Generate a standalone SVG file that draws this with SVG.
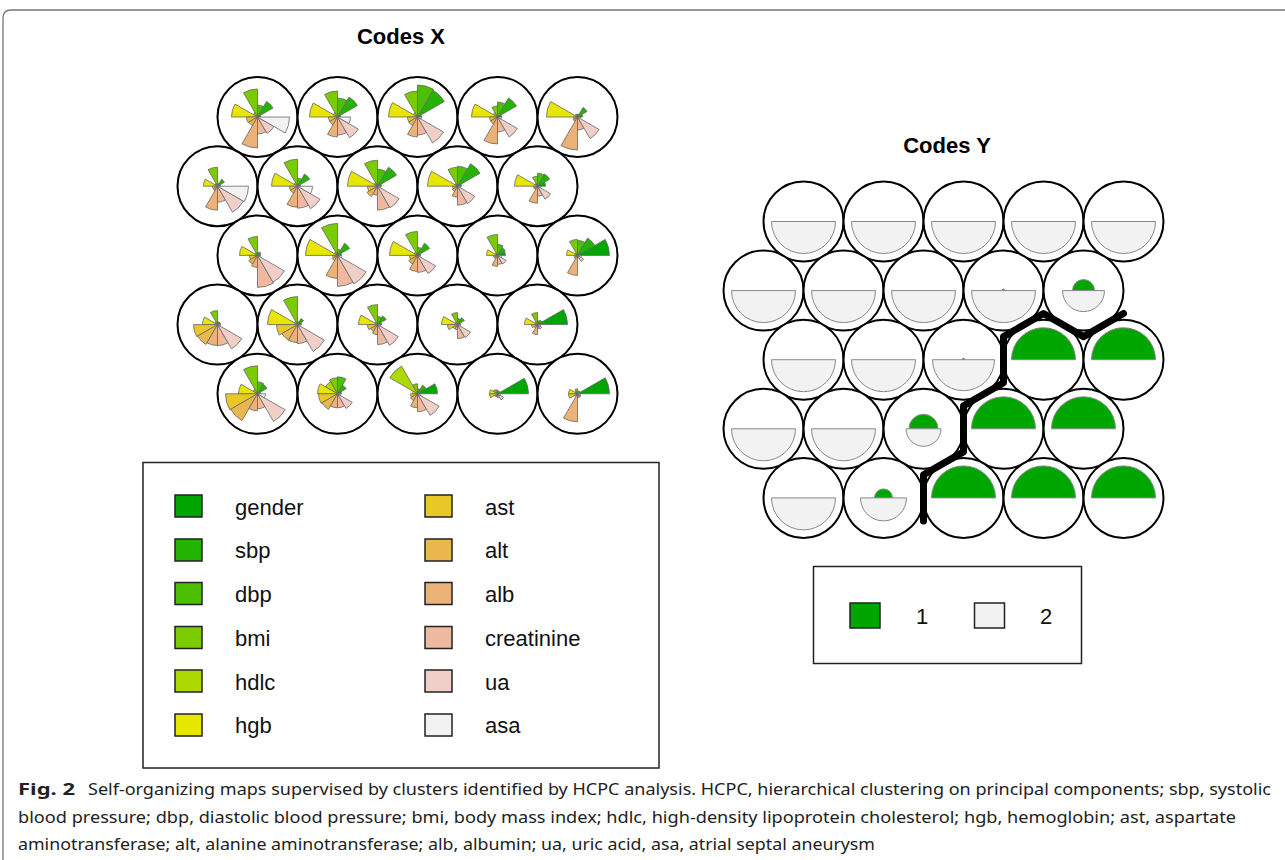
<svg xmlns="http://www.w3.org/2000/svg" xmlns:xlink="http://www.w3.org/1999/xlink" width="1285" height="860" viewBox="0 0 1285 860">
<style>
.c{fill:#fff;stroke:#000;stroke-width:2}
.w{stroke:#666;stroke-width:0.8;vector-effect:non-scaling-stroke}
.h{stroke:#888;stroke-width:1;vector-effect:non-scaling-stroke}
.t{font-family:"Liberation Sans",Arial,sans-serif;font-weight:bold;font-size:22px;fill:#000;text-anchor:middle}
.l{font-family:"Liberation Sans",Arial,sans-serif;font-size:22px;fill:#111}
.sq{stroke:#222;stroke-width:1.5}
.box{fill:#fff;stroke:#222;stroke-width:1.5}
.cap{font-family:"Noto Sans","Open Sans",sans-serif;font-size:16px;fill:#222}
</style>
<defs>
<path id="w0" class="w" d="M0,0L10,0A10,10 0 0 0 8.66,-5Z" fill="#00A600"/>
<path id="w1" class="w" d="M0,0L8.66,-5A10,10 0 0 0 5,-8.66Z" fill="#24B300"/>
<path id="w2" class="w" d="M0,0L5,-8.66A10,10 0 0 0 0,-10Z" fill="#4CBF00"/>
<path id="w3" class="w" d="M0,0L0,-10A10,10 0 0 0 -5,-8.66Z" fill="#7ACC00"/>
<path id="w4" class="w" d="M0,0L-5,-8.66A10,10 0 0 0 -8.66,-5Z" fill="#ADD900"/>
<path id="w5" class="w" d="M0,0L-8.66,-5A10,10 0 0 0 -10,0Z" fill="#E6E600"/>
<path id="w6" class="w" d="M0,0L-10,0A10,10 0 0 0 -8.66,5Z" fill="#E8C727"/>
<path id="w7" class="w" d="M0,0L-8.66,5A10,10 0 0 0 -5,8.66Z" fill="#EAB64E"/>
<path id="w8" class="w" d="M0,0L-5,8.66A10,10 0 0 0 0,10Z" fill="#ECB176"/>
<path id="w9" class="w" d="M0,0L0,10A10,10 0 0 0 5,8.66Z" fill="#EEB99F"/>
<path id="w10" class="w" d="M0,0L5,8.66A10,10 0 0 0 8.66,5Z" fill="#F0CFC8"/>
<path id="w11" class="w" d="M0,0L8.66,5A10,10 0 0 0 10,0Z" fill="#F2F2F2"/>
<path id="up" class="h" d="M-10,0A10,10 0 0 1 10,0Z" fill="#00A600"/>
<path id="lo" class="h" d="M10,0A10,10 0 0 1 -10,0Z" fill="#F2F2F2"/>
</defs>

<path d="M3,860L3,18Q3,10 11,10L1285,10" fill="none" stroke="#777" stroke-width="1.3"/>

<text class="t" x="401" y="44">Codes X</text>
<text class="t" x="947" y="153">Codes Y</text>

<!-- Codes X -->
<g id="x-1-1" transform="translate(257.5,117)"><circle class="c" r="40"/>
<use href="#w0" transform="scale(.3)"/><use href="#w1" transform="scale(1.8)"/><use href="#w2" transform="scale(1.2)"/><use href="#w3" transform="scale(2.8)"/><use href="#w4" transform="scale(.5)"/><use href="#w5" transform="scale(2.6)"/><use href="#w6" transform="scale(1.1)"/><use href="#w7" transform="scale(1)"/><use href="#w8" transform="scale(3.1)"/><use href="#w9" transform="scale(1.7)"/><use href="#w10" transform="scale(1.9)"/><use href="#w11" transform="scale(3.2)"/></g>
<g id="x-1-2" transform="translate(337.5,117)"><circle class="c" r="40"/>
<use href="#w0" transform="scale(.3)"/><use href="#w1" transform="scale(2.3)"/><use href="#w2" transform="scale(1.9)"/><use href="#w3" transform="scale(2.6)"/><use href="#w4" transform="scale(.5)"/><use href="#w5" transform="scale(2.8)"/><use href="#w6" transform="scale(.9)"/><use href="#w7" transform="scale(.9)"/><use href="#w8" transform="scale(2)"/><use href="#w9" transform="scale(1.8)"/><use href="#w10" transform="scale(2.4)"/><use href="#w11" transform="scale(1.3)"/></g>
<g id="x-1-3" transform="translate(417.5,117)"><circle class="c" r="40"/>
<use href="#w0" transform="scale(.4)"/><use href="#w1" transform="scale(3.1)"/><use href="#w2" transform="scale(3.2)"/><use href="#w3" transform="scale(2.6)"/><use href="#w4" transform="scale(.5)"/><use href="#w5" transform="scale(2.9)"/><use href="#w6" transform="scale(1)"/><use href="#w7" transform="scale(1)"/><use href="#w8" transform="scale(2)"/><use href="#w9" transform="scale(1.8)"/><use href="#w10" transform="scale(3)"/><use href="#w11" transform="scale(.4)"/></g>
<g id="x-1-4" transform="translate(497.5,117)"><circle class="c" r="40"/>
<use href="#w0" transform="scale(.4)"/><use href="#w1" transform="scale(2.2)"/><use href="#w2" transform="scale(1.5)"/><use href="#w3" transform="scale(1.1)"/><use href="#w4" transform="scale(.5)"/><use href="#w5" transform="scale(2.6)"/><use href="#w6" transform="scale(.8)"/><use href="#w7" transform="scale(.8)"/><use href="#w8" transform="scale(2.7)"/><use href="#w9" transform="scale(1.5)"/><use href="#w10" transform="scale(2.3)"/><use href="#w11" transform="scale(.4)"/></g>
<g id="x-1-5" transform="translate(577.5,117)"><circle class="c" r="40"/>
<use href="#w0" transform="scale(.5)"/><use href="#w1" transform="scale(1.1)"/><use href="#w2" transform="scale(.3)"/><use href="#w3" transform="scale(.3)"/><use href="#w4" transform="scale(.3)"/><use href="#w5" transform="scale(3.1)"/><use href="#w6" transform="scale(.4)"/><use href="#w7" transform="scale(.5)"/><use href="#w8" transform="scale(3.3)"/><use href="#w9" transform="scale(1.3)"/><use href="#w10" transform="scale(2.5)"/><use href="#w11" transform="scale(.3)"/></g>

<g id="x-2-1" transform="translate(217.5,186.2)"><circle class="c" r="40"/>
<use href="#w0" transform="scale(.3)"/><use href="#w1" transform="scale(.8)"/><use href="#w2" transform="scale(.3)"/><use href="#w3" transform="scale(1.9)"/><use href="#w4" transform="scale(.3)"/><use href="#w5" transform="scale(1.4)"/><use href="#w6" transform="scale(.5)"/><use href="#w7" transform="scale(.5)"/><use href="#w8" transform="scale(2.4)"/><use href="#w9" transform="scale(1.6)"/><use href="#w10" transform="scale(3)"/><use href="#w11" transform="scale(3.1)"/></g>
<g id="x-2-2" transform="translate(297.5,186.2)"><circle class="c" r="40"/>
<use href="#w0" transform="scale(.3)"/><use href="#w1" transform="scale(1.4)"/><use href="#w2" transform="scale(.8)"/><use href="#w3" transform="scale(2.7)"/><use href="#w4" transform="scale(.4)"/><use href="#w5" transform="scale(2.6)"/><use href="#w6" transform="scale(.8)"/><use href="#w7" transform="scale(.8)"/><use href="#w8" transform="scale(2.1)"/><use href="#w9" transform="scale(2.2)"/><use href="#w10" transform="scale(2.6)"/><use href="#w11" transform="scale(1.5)"/></g>
<g id="x-2-3" transform="translate(377.5,186.2)"><circle class="c" r="40"/>
<use href="#w0" transform="scale(.4)"/><use href="#w1" transform="scale(2.2)"/><use href="#w2" transform="scale(1.7)"/><use href="#w3" transform="scale(2.6)"/><use href="#w4" transform="scale(.4)"/><use href="#w5" transform="scale(3)"/><use href="#w6" transform="scale(1)"/><use href="#w7" transform="scale(1.2)"/><use href="#w8" transform="scale(.9)"/><use href="#w9" transform="scale(2.4)"/><use href="#w10" transform="scale(2.5)"/><use href="#w11" transform="scale(.3)"/></g>
<g id="x-2-4" transform="translate(457.5,186.2)"><circle class="c" r="40"/>
<use href="#w0" transform="scale(.4)"/><use href="#w1" transform="scale(2.6)"/><use href="#w2" transform="scale(2)"/><use href="#w3" transform="scale(1.9)"/><use href="#w4" transform="scale(.3)"/><use href="#w5" transform="scale(3)"/><use href="#w6" transform="scale(.5)"/><use href="#w7" transform="scale(.6)"/><use href="#w8" transform="scale(1.1)"/><use href="#w9" transform="scale(1.9)"/><use href="#w10" transform="scale(2)"/><use href="#w11" transform="scale(.3)"/></g>
<g id="x-2-5" transform="translate(537.5,186.2)"><circle class="c" r="40"/>
<use href="#w0" transform="scale(.8)"/><use href="#w1" transform="scale(1.4)"/><use href="#w2" transform="scale(1.3)"/><use href="#w3" transform="scale(1)"/><use href="#w4" transform="scale(.3)"/><use href="#w5" transform="scale(2.3)"/><use href="#w6" transform="scale(.4)"/><use href="#w7" transform="scale(.4)"/><use href="#w8" transform="scale(1.7)"/><use href="#w9" transform="scale(1)"/><use href="#w10" transform="scale(1.5)"/><use href="#w11" transform="scale(.3)"/></g>

<g id="x-3-1" transform="translate(257.5,255.4)"><circle class="c" r="40"/>
<use href="#w0" transform="scale(.3)"/><use href="#w1" transform="scale(.4)"/><use href="#w2" transform="scale(.3)"/><use href="#w3" transform="scale(1.9)"/><use href="#w4" transform="scale(.3)"/><use href="#w5" transform="scale(1.8)"/><use href="#w6" transform="scale(.8)"/><use href="#w7" transform="scale(1)"/><use href="#w8" transform="scale(1.2)"/><use href="#w9" transform="scale(3.2)"/><use href="#w10" transform="scale(3.1)"/><use href="#w11" transform="scale(.3)"/></g>
<g id="x-3-2" transform="translate(337.5,255.4)"><circle class="c" r="40"/>
<use href="#w0" transform="scale(.4)"/><use href="#w1" transform="scale(1.4)"/><use href="#w2" transform="scale(.6)"/><use href="#w3" transform="scale(3.2)"/><use href="#w4" transform="scale(.4)"/><use href="#w5" transform="scale(3.2)"/><use href="#w6" transform="scale(.5)"/><use href="#w7" transform="scale(.6)"/><use href="#w8" transform="scale(2.3)"/><use href="#w9" transform="scale(3.1)"/><use href="#w10" transform="scale(3.3)"/><use href="#w11" transform="scale(.4)"/></g>
<g id="x-3-3" transform="translate(417.5,255.4)"><circle class="c" r="40"/>
<use href="#w0" transform="scale(.3)"/><use href="#w1" transform="scale(1.4)"/><use href="#w2" transform="scale(.8)"/><use href="#w3" transform="scale(2.4)"/><use href="#w4" transform="scale(.4)"/><use href="#w5" transform="scale(2.8)"/><use href="#w6" transform="scale(.8)"/><use href="#w7" transform="scale(1)"/><use href="#w8" transform="scale(1.6)"/><use href="#w9" transform="scale(1.7)"/><use href="#w10" transform="scale(2.1)"/><use href="#w11" transform="scale(.3)"/></g>
<g id="x-3-4" transform="translate(497.5,255.4)"><circle class="c" r="40"/>
<use href="#w0" transform="scale(.8)"/><use href="#w1" transform="scale(.9)"/><use href="#w2" transform="scale(1.1)"/><use href="#w3" transform="scale(2.1)"/><use href="#w4" transform="scale(.3)"/><use href="#w5" transform="scale(1.1)"/><use href="#w6" transform="scale(.4)"/><use href="#w7" transform="scale(.4)"/><use href="#w8" transform="scale(1.1)"/><use href="#w9" transform="scale(.9)"/><use href="#w10" transform="scale(1)"/><use href="#w11" transform="scale(.4)"/></g>
<g id="x-3-5" transform="translate(577.5,255.4)"><circle class="c" r="40"/>
<use href="#w0" transform="scale(3.2)"/><use href="#w1" transform="scale(2)"/><use href="#w2" transform="scale(1.5)"/><use href="#w3" transform="scale(1.6)"/><use href="#w4" transform="scale(.3)"/><use href="#w5" transform="scale(1.1)"/><use href="#w6" transform="scale(.3)"/><use href="#w7" transform="scale(.4)"/><use href="#w8" transform="scale(2)"/><use href="#w9" transform="scale(.3)"/><use href="#w10" transform="scale(.7)"/><use href="#w11" transform="scale(.4)"/></g>

<g id="x-4-1" transform="translate(217.5,324.6)"><circle class="c" r="40"/>
<use href="#w0" transform="scale(.3)"/><use href="#w1" transform="scale(.3)"/><use href="#w2" transform="scale(.3)"/><use href="#w3" transform="scale(1.4)"/><use href="#w4" transform="scale(.3)"/><use href="#w5" transform="scale(1.5)"/><use href="#w6" transform="scale(2.4)"/><use href="#w7" transform="scale(2.3)"/><use href="#w8" transform="scale(2.1)"/><use href="#w9" transform="scale(2.1)"/><use href="#w10" transform="scale(2.8)"/><use href="#w11" transform="scale(.3)"/></g>
<g id="x-4-2" transform="translate(297.5,324.6)"><circle class="c" r="40"/>
<use href="#w0" transform="scale(.4)"/><use href="#w1" transform="scale(.7)"/><use href="#w2" transform="scale(.3)"/><use href="#w3" transform="scale(2.8)"/><use href="#w4" transform="scale(.4)"/><use href="#w5" transform="scale(3)"/><use href="#w6" transform="scale(2.1)"/><use href="#w7" transform="scale(1.8)"/><use href="#w8" transform="scale(1.8)"/><use href="#w9" transform="scale(1.9)"/><use href="#w10" transform="scale(3.1)"/><use href="#w11" transform="scale(.3)"/></g>
<g id="x-4-3" transform="translate(377.5,324.6)"><circle class="c" r="40"/>
<use href="#w0" transform="scale(.4)"/><use href="#w1" transform="scale(1)"/><use href="#w2" transform="scale(.8)"/><use href="#w3" transform="scale(2)"/><use href="#w4" transform="scale(.3)"/><use href="#w5" transform="scale(1.9)"/><use href="#w6" transform="scale(1)"/><use href="#w7" transform="scale(.8)"/><use href="#w8" transform="scale(1)"/><use href="#w9" transform="scale(2)"/><use href="#w10" transform="scale(2.4)"/><use href="#w11" transform="scale(.3)"/></g>
<g id="x-4-4" transform="translate(457.5,324.6)"><circle class="c" r="40"/>
<use href="#w0" transform="scale(.3)"/><use href="#w1" transform="scale(.8)"/><use href="#w2" transform="scale(.6)"/><use href="#w3" transform="scale(1.2)"/><use href="#w4" transform="scale(.3)"/><use href="#w5" transform="scale(1.6)"/><use href="#w6" transform="scale(1)"/><use href="#w7" transform="scale(.5)"/><use href="#w8" transform="scale(.5)"/><use href="#w9" transform="scale(1.4)"/><use href="#w10" transform="scale(1.5)"/><use href="#w11" transform="scale(.3)"/></g>
<g id="x-4-5" transform="translate(537.5,324.6)"><circle class="c" r="40"/>
<use href="#w0" transform="scale(3)"/><use href="#w1" transform="scale(.5)"/><use href="#w2" transform="scale(.4)"/><use href="#w3" transform="scale(1.2)"/><use href="#w4" transform="scale(.3)"/><use href="#w5" transform="scale(1.3)"/><use href="#w6" transform="scale(.6)"/><use href="#w7" transform="scale(.4)"/><use href="#w8" transform="scale(1)"/><use href="#w9" transform="scale(.4)"/><use href="#w10" transform="scale(.5)"/><use href="#w11" transform="scale(.3)"/></g>

<g id="x-5-1" transform="translate(257.5,393.8)"><circle class="c" r="40"/>
<use href="#w0" transform="scale(.3)"/><use href="#w1" transform="scale(1.1)"/><use href="#w2" transform="scale(1.2)"/><use href="#w3" transform="scale(2.8)"/><use href="#w4" transform="scale(.5)"/><use href="#w5" transform="scale(1.9)"/><use href="#w6" transform="scale(3.2)"/><use href="#w7" transform="scale(3.1)"/><use href="#w8" transform="scale(1.7)"/><use href="#w9" transform="scale(1.5)"/><use href="#w10" transform="scale(3.2)"/><use href="#w11" transform="scale(.8)"/></g>
<g id="x-5-2" transform="translate(337.5,393.8)"><circle class="c" r="40"/>
<use href="#w0" transform="scale(.4)"/><use href="#w1" transform="scale(1)"/><use href="#w2" transform="scale(1.7)"/><use href="#w3" transform="scale(1.6)"/><use href="#w4" transform="scale(1.4)"/><use href="#w5" transform="scale(2)"/><use href="#w6" transform="scale(1.9)"/><use href="#w7" transform="scale(1.8)"/><use href="#w8" transform="scale(1.4)"/><use href="#w9" transform="scale(1.4)"/><use href="#w10" transform="scale(1.7)"/><use href="#w11" transform="scale(.3)"/></g>
<g id="x-5-3" transform="translate(417.5,393.8)"><circle class="c" r="40"/>
<use href="#w0" transform="scale(2)"/><use href="#w1" transform="scale(1)"/><use href="#w2" transform="scale(.5)"/><use href="#w3" transform="scale(1)"/><use href="#w4" transform="scale(3.2)"/><use href="#w5" transform="scale(.5)"/><use href="#w6" transform="scale(.7)"/><use href="#w7" transform="scale(.8)"/><use href="#w8" transform="scale(1.4)"/><use href="#w9" transform="scale(1.8)"/><use href="#w10" transform="scale(2.5)"/><use href="#w11" transform="scale(.3)"/></g>
<g id="x-5-4" transform="translate(497.5,393.8)"><circle class="c" r="40"/>
<use href="#w0" transform="scale(3.1)"/><use href="#w1" transform="scale(.3)"/><use href="#w2" transform="scale(.3)"/><use href="#w3" transform="scale(.4)"/><use href="#w4" transform="scale(.5)"/><use href="#w5" transform="scale(.8)"/><use href="#w6" transform="scale(.8)"/><use href="#w7" transform="scale(.3)"/><use href="#w8" transform="scale(.3)"/><use href="#w9" transform="scale(.4)"/><use href="#w10" transform="scale(.7)"/><use href="#w11" transform="scale(.3)"/></g>
<g id="x-5-5" transform="translate(577.5,393.8)"><circle class="c" r="40"/>
<use href="#w0" transform="scale(3.2)"/><use href="#w1" transform="scale(.3)"/><use href="#w2" transform="scale(.3)"/><use href="#w3" transform="scale(.5)"/><use href="#w4" transform="scale(.3)"/><use href="#w5" transform="scale(.9)"/><use href="#w6" transform="scale(.9)"/><use href="#w7" transform="scale(.3)"/><use href="#w8" transform="scale(2.8)"/><use href="#w9" transform="scale(.4)"/><use href="#w10" transform="scale(.4)"/><use href="#w11" transform="scale(.3)"/></g>

<!-- Codes X legend -->
<g id="legend-x">
<rect class="box" x="143" y="462.5" width="516" height="305.5"/>
<rect class="sq" x="175" y="495" width="27" height="22" fill="#00A600"/>
<rect class="sq" x="175" y="539" width="27" height="22" fill="#24B300"/>
<rect class="sq" x="175" y="582.5" width="27" height="22" fill="#4CBF00"/>
<rect class="sq" x="175" y="626.5" width="27" height="22" fill="#7ACC00"/>
<rect class="sq" x="175" y="670" width="27" height="22" fill="#ADD900"/>
<rect class="sq" x="175" y="714" width="27" height="22" fill="#E6E600"/>
<rect class="sq" x="425" y="495" width="27" height="22" fill="#E8C727"/>
<rect class="sq" x="425" y="539" width="27" height="22" fill="#EAB64E"/>
<rect class="sq" x="425" y="582.5" width="27" height="22" fill="#ECB176"/>
<rect class="sq" x="425" y="626.5" width="27" height="22" fill="#EEB99F"/>
<rect class="sq" x="425" y="670" width="27" height="22" fill="#F0CFC8"/>
<rect class="sq" x="425" y="714" width="27" height="22" fill="#F2F2F2"/>
<text class="l" x="235" y="514.5">gender</text>
<text class="l" x="235" y="558.3">sbp</text>
<text class="l" x="235" y="602">dbp</text>
<text class="l" x="235" y="645.8">bmi</text>
<text class="l" x="235" y="689.6">hdlc</text>
<text class="l" x="235" y="733.4">hgb</text>
<text class="l" x="485" y="514.5">ast</text>
<text class="l" x="485" y="558.3">alt</text>
<text class="l" x="485" y="602">alb</text>
<text class="l" x="485" y="645.8">creatinine</text>
<text class="l" x="485" y="689.6">ua</text>
<text class="l" x="485" y="733.4">asa</text>
</g>

<!-- Codes Y -->
<g id="y-1-1" transform="translate(803.5,221.5)"><circle class="c" r="40"/><use href="#lo" transform="scale(3.2)"/></g>
<g id="y-1-2" transform="translate(883.5,221.5)"><circle class="c" r="40"/><use href="#lo" transform="scale(3.2)"/></g>
<g id="y-1-3" transform="translate(963.5,221.5)"><circle class="c" r="40"/><use href="#lo" transform="scale(3.2)"/></g>
<g id="y-1-4" transform="translate(1043.5,221.5)"><circle class="c" r="40"/><use href="#lo" transform="scale(3.2)"/></g>
<g id="y-1-5" transform="translate(1123.5,221.5)"><circle class="c" r="40"/><use href="#lo" transform="scale(3.2)"/></g>

<g id="y-2-1" transform="translate(763.5,290.6)"><circle class="c" r="40"/><use href="#lo" transform="scale(3.2)"/></g>
<g id="y-2-2" transform="translate(843.5,290.6)"><circle class="c" r="40"/><use href="#lo" transform="scale(3.2)"/></g>
<g id="y-2-3" transform="translate(923.5,290.6)"><circle class="c" r="40"/><use href="#lo" transform="scale(3.2)"/></g>
<g id="y-2-4" transform="translate(1003.5,290.6)"><circle class="c" r="40"/><use href="#up" transform="scale(.15)"/><use href="#lo" transform="scale(3.2)"/></g>
<g id="y-2-5" transform="translate(1083.5,290.6)"><circle class="c" r="40"/><use href="#up" transform="scale(1.1)"/><use href="#lo" transform="scale(2.1)"/></g>

<g id="y-3-1" transform="translate(803.5,359.7)"><circle class="c" r="40"/><use href="#lo" transform="scale(3.2)"/></g>
<g id="y-3-2" transform="translate(883.5,359.7)"><circle class="c" r="40"/><use href="#lo" transform="scale(3.2)"/></g>
<g id="y-3-3" transform="translate(963.5,359.7)"><circle class="c" r="40"/><use href="#up" transform="scale(.15)"/><use href="#lo" transform="scale(3.1)"/></g>
<g id="y-3-4" transform="translate(1043.5,359.7)"><circle class="c" r="40"/><use href="#up" transform="scale(3.2)"/></g>
<g id="y-3-5" transform="translate(1123.5,359.7)"><circle class="c" r="40"/><use href="#up" transform="scale(3.2)"/></g>

<g id="y-4-1" transform="translate(763.5,428.8)"><circle class="c" r="40"/><use href="#lo" transform="scale(3.2)"/></g>
<g id="y-4-2" transform="translate(843.5,428.8)"><circle class="c" r="40"/><use href="#lo" transform="scale(3.2)"/></g>
<g id="y-4-3" transform="translate(923.5,428.8)"><circle class="c" r="40"/><use href="#up" transform="scale(1.45)"/><use href="#lo" transform="scale(1.75)"/></g>
<g id="y-4-4" transform="translate(1003.5,428.8)"><circle class="c" r="40"/><use href="#up" transform="scale(3.2)"/></g>
<g id="y-4-5" transform="translate(1083.5,428.8)"><circle class="c" r="40"/><use href="#up" transform="scale(3.2)"/></g>

<g id="y-5-1" transform="translate(803.5,497.9)"><circle class="c" r="40"/><use href="#lo" transform="scale(3.2)"/></g>
<g id="y-5-2" transform="translate(883.5,497.9)"><circle class="c" r="40"/><use href="#up" transform="scale(.9)"/><use href="#lo" transform="scale(2.3)"/></g>
<g id="y-5-3" transform="translate(963.5,497.9)"><circle class="c" r="40"/><use href="#up" transform="scale(3.2)"/></g>
<g id="y-5-4" transform="translate(1043.5,497.9)"><circle class="c" r="40"/><use href="#up" transform="scale(3.2)"/></g>
<g id="y-5-5" transform="translate(1123.5,497.9)"><circle class="c" r="40"/><use href="#up" transform="scale(3.2)"/></g>

<g id="connectors">
<path d="M1123.5,313.5L1083.5,336.6L1043.5,313.5L1003.5,336.6L1003.5,382.7L963.5,405.7L963.5,451.9L923.5,474.8L923.5,521" fill="none" stroke="#000" stroke-width="7" stroke-linejoin="round" stroke-linecap="round"/>
</g>

<!-- Codes Y legend -->
<g id="legend-y">
<rect class="box" x="813.5" y="566.5" width="268" height="97"/>
<rect class="sq" x="850" y="603" width="30" height="25" fill="#00A600"/>
<rect class="sq" x="974.5" y="603" width="30" height="25" fill="#F2F2F2"/>
<text class="l" x="916" y="624">1</text>
<text class="l" x="1040" y="624">2</text>
</g>

<!-- caption -->
<g id="caption">
<text class="cap" x="18" y="795" font-weight="bold" textLength="57" lengthAdjust="spacingAndGlyphs">Fig. 2</text>
<text class="cap" x="88" y="795" textLength="1183" lengthAdjust="spacingAndGlyphs">Self-organizing maps supervised by clusters identified by HCPC analysis. HCPC, hierarchical clustering on principal components; sbp, systolic</text>
<text class="cap" x="18" y="823" textLength="1218" lengthAdjust="spacingAndGlyphs">blood pressure; dbp, diastolic blood pressure; bmi, body mass index; hdlc, high-density lipoprotein cholesterol; hgb, hemoglobin; ast, aspartate</text>
<text class="cap" x="18" y="850" textLength="857" lengthAdjust="spacingAndGlyphs">aminotransferase; alt, alanine aminotransferase; alb, albumin; ua, uric acid, asa, atrial septal aneurysm</text>
</g>
</svg>
